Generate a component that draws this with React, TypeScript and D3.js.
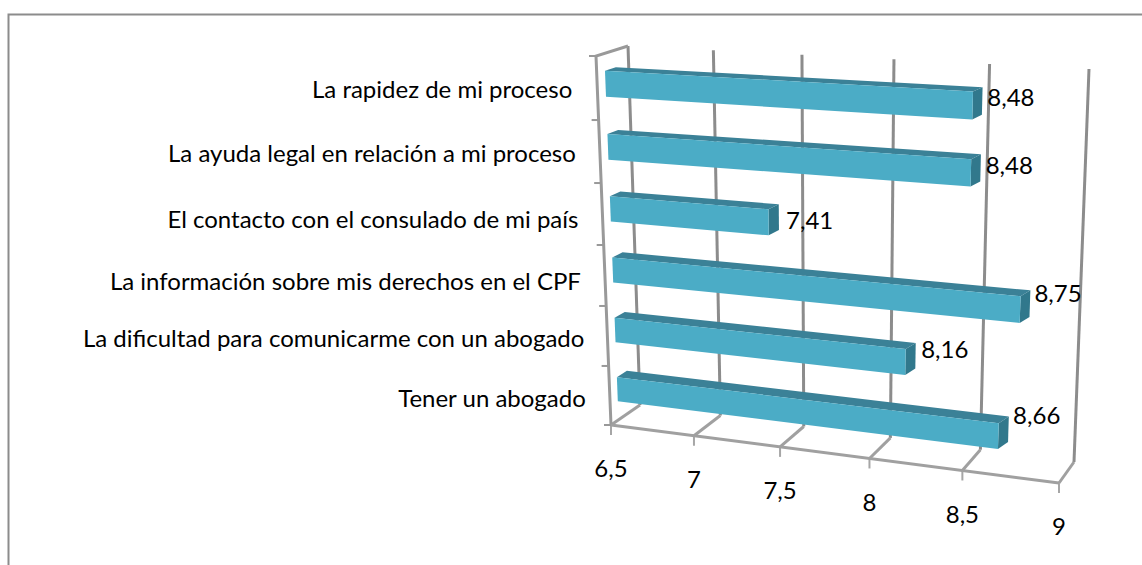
import React from "react";
import * as d3 from "d3";

const categories = [
  "La rapidez de mi proceso",
  "La ayuda legal en relación a mi proceso",
  "El contacto con el consulado de mi país",
  "La información sobre mis derechos en el CPF",
  "La dificultad para comunicarme con un abogado",
  "Tener un abogado",
];
const values = [8.48, 8.48, 7.41, 8.75, 8.16, 8.66];
const valueTicks = [6.5, 7, 7.5, 8, 8.5, 9];

const WIDTH = 1142;
const HEIGHT = 565;

// corners of the 3d box as seen on screen
const FRONT_BOTTOM_LEFT = [611, 425];
const FRONT_BOTTOM_RIGHT = [1059, 483];
const FRONT_TOP_LEFT = [596, 56];
const FRONT_TOP_RIGHT = [1077, 82];
const BACK_BOTTOM_LEFT = [640, 405];
const BACK_BOTTOM_RIGHT = [1074, 462];
const BACK_TOP_LEFT = [628, 46];
const BACK_TOP_RIGHT = [1089, 69];

const PERSPECTIVE_X = 0.1;
const PERSPECTIVE_Y = 0.05;
const BAR_FRONT = 0.26; // depth of the bar's front face
const BAR_BACK = 0.6;
const BAR_END_SKEW = 5; // the bar ends look deeper than the box does

const GRID = "#8c8c8c";
const BAR_FACE = "#4bacc6";
const BAR_TOP = "#3b8197";
const BAR_END = "#31788c";
const FONT = "Lato, Carlito, sans-serif";

const xScale = d3.scaleLinear().domain([6.5, 9]).range([0, 1]);
const yScale = d3
  .scaleBand()
  .domain(categories)
  .range([-0.004, 0.996])
  .paddingInner(0.59)
  .paddingOuter(0.295);
const yOuter = d3.scaleBand().domain(categories).range([0, 1]);

const mix = (a: number[], b: number[], t: number) => [
  a[0] + (b[0] - a[0]) * t,
  a[1] + (b[1] - a[1]) * t,
];

// value, height (0 top, 1 bottom), depth (0 front, 1 back) to screen
const project = (val: number, v: number, d: number) => {
  const u = xScale(val);
  const t = u / (1 + PERSPECTIVE_X * (1 - u));
  const s = (v * (1 + PERSPECTIVE_Y)) / (1 + PERSPECTIVE_Y * v);
  const front = mix(
    mix(FRONT_TOP_LEFT, FRONT_TOP_RIGHT, t),
    mix(FRONT_BOTTOM_LEFT, FRONT_BOTTOM_RIGHT, t),
    s,
  );
  const back = mix(
    mix(BACK_TOP_LEFT, BACK_TOP_RIGHT, t),
    mix(BACK_BOTTOM_LEFT, BACK_BOTTOM_RIGHT, t),
    s,
  );
  return mix(front, back, d);
};

const barBack = (val: number, v: number) => {
  const p = project(val, v, BAR_BACK);
  return [p[0] + BAR_END_SKEW * xScale(val), p[1]];
};

const line = d3.line();
const path = (pts: number[][]) => line(pts as [number, number][])!;
const poly = (pts: number[][]) => path(pts) + "Z";
const comma = (v: number, digits?: number) =>
  (digits ? v.toFixed(digits) : String(v)).replace(".", ",");

// excel placed the labels a bit unevenly
const categoryDy = [1, 2, 5, 6, 3, 3];
const categoryDx = [-25, -24, -24, -24, -23, -24];
const valueLabelDy = [-3, -2, 3, -10, -6, -14];

export default function App() {
  const x0 = valueTicks[0];
  return (
    <svg
      width={WIDTH}
      height={HEIGHT}
      style={{ position: "absolute", left: 0, top: 0, background: "#fff" }}
    >
      <path d={`M8.5,${HEIGHT}V14.5H${WIDTH}`} fill="none" stroke="#8c8c8c" strokeWidth={2} />

      {/* walls and floor */}
      <g stroke={GRID} strokeWidth={3} fill="none">
        {valueTicks.map((t) => {
          const p = project(t, 1, 0);
          return (
            <g key={t}>
              <path d={path([project(t, 0, 1), project(t, 1, 1)])} />
              <path d={path([project(t, 1, 1), p])} stroke="#a0a0a0" />
              <path d={`M${p[0]},${p[1]}v10`} strokeWidth={2} stroke="#a6a6a6" />
            </g>
          );
        })}
        <path d={path([project(x0, 0, 1), project(x0, 0, 0), project(x0, 1, 0)])} stroke="#999" />
        <path d={path([project(x0, 1, 0), project(9, 1, 0)])} stroke="#a0a0a0" />
        {d3.range(7).map((i) => {
          const p = project(x0, i / 6, 0);
          return <path key={i} d={`M${p[0]},${p[1]}h-7`} strokeWidth={2} stroke="#999" />;
        })}
      </g>

      {/* bars */}
      {categories.map((c, i) => {
        const top = yScale(c)!;
        const bottom = top + yScale.bandwidth();
        const val = values[i];
        return (
          <g key={c}>
            <path
              d={poly([project(x0, top, BAR_FRONT), barBack(x0, top), barBack(val, top), project(val, top, BAR_FRONT)])}
              fill={BAR_TOP}
            />
            <path
              d={poly([project(val, top, BAR_FRONT), barBack(val, top), barBack(val, bottom), project(val, bottom, BAR_FRONT)])}
              fill={BAR_END}
            />
            <path
              d={poly([project(x0, top, BAR_FRONT), project(val, top, BAR_FRONT), project(val, bottom, BAR_FRONT), project(x0, bottom, BAR_FRONT)])}
              fill={BAR_FACE}
            />
          </g>
        );
      })}

      <g fontFamily={FONT} fontSize={24} fill="#000">
        {categories.map((c, i) => {
          const p = project(x0, yOuter(c)! + yOuter.bandwidth() / 2, 0);
          return (
            <text key={c} x={p[0] + categoryDx[i]} y={p[1] + categoryDy[i]} dy="0.35em" textAnchor="end">
              {c}
            </text>
          );
        })}
        {valueTicks.map((t) => {
          const p = project(t, 1, 0);
          return (
            <text key={t} x={p[0]} y={p[1] + 44} dy="0.35em" textAnchor="middle">
              {comma(t)}
            </text>
          );
        })}
        {categories.map((c, i) => {
          const p = project(values[i], yScale(c)! + yScale.bandwidth() / 2, BAR_BACK);
          return (
            <text key={c} x={p[0] + 9} y={p[1] + valueLabelDy[i]} dy="0.35em">
              {comma(values[i], 2)}
            </text>
          );
        })}
      </g>
    </svg>
  );
}
